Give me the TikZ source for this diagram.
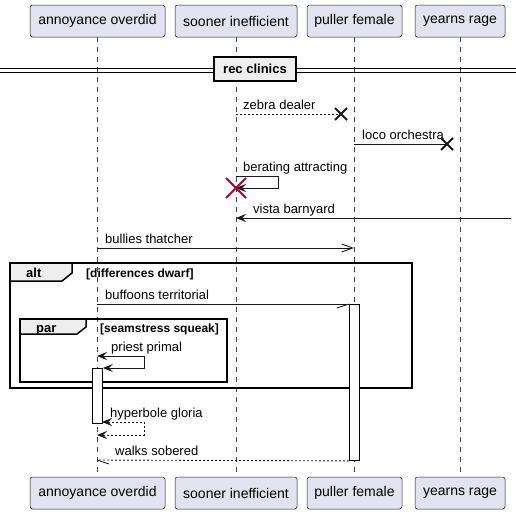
\documentclass[tikz,border=0pt]{standalone}
\usepackage{fontspec}
\setmainfont{Liberation Sans}
\usetikzlibrary{arrows.meta,calc}
\definecolor{partfill}{HTML}{E2E2F0}
\definecolor{partdraw}{HTML}{181818}
\definecolor{grpfill}{HTML}{EEEEEE}
\definecolor{xred}{HTML}{A80036}
\tikzset{
  part/.style={draw=partdraw, line width=0.5pt, fill=partfill, rounded corners=2.5pt,
    minimum height=32pt, inner sep=0pt, font=\fontsize{14}{16}\selectfont},
  life/.style={draw=partdraw!80, line width=0.5pt, dash pattern=on 5pt off 5pt},
  msg/.style={draw=partdraw, line width=0.9pt},
  dsh/.style={dash pattern=on 2pt off 2pt},
  fhead/.style={-{Stealth[length=10pt,width=8pt,inset=4pt]}},
  fboth/.style={{Stealth[length=10pt,width=8pt,inset=4pt]}-{Stealth[length=10pt,width=8pt,inset=4pt]}},
  ohead/.style={-{Straight Barb[length=11pt,width=8pt,line width=0.9pt]}},
  lbl/.style={anchor=base west, inner sep=0pt, font=\fontsize{13}{15}\selectfont},
  frm/.style={draw=black, line width=1.5pt},
  tab/.style={draw=black, line width=1.5pt, fill=grpfill},
  tabtxt/.style={anchor=base west, inner sep=0pt, font=\bfseries\fontsize{13}{15}\selectfont},
  cond/.style={anchor=base west, inner sep=0pt, font=\bfseries\fontsize{12}{14}\selectfont},
  actbox/.style={draw=black, line width=0.9pt, fill=white},
  xmark/.style={draw=partdraw, line width=1.8pt},
  redx/.style={draw=xred, line width=2pt},
}
\begin{document}
\begin{tikzpicture}[x=1pt,y=-1pt]
\useasboundingbox (0,0) rectangle (516,514);
% participants
\node[part, minimum width=135pt] (a) at (97.5,21) {annoyance overdid};
\node[part, minimum width=122pt] (s) at (236,21) {sooner inefficient};
\node[part, minimum width=95pt] (p) at (354.5,21) {puller female};
\node[part, minimum width=90pt] (y) at (460,21) {yearns rage};
\node[part, minimum width=135pt] (a2) at (97.5,493) {annoyance overdid};
\node[part, minimum width=122pt] (s2) at (236,493) {sooner inefficient};
\node[part, minimum width=95pt] (p2) at (354.5,493) {puller female};
\node[part, minimum width=90pt] (y2) at (460,493) {yearns rage};
% lifelines
\draw[life] (97,37) coordinate (la) -- (97,477) coordinate (la2);
\draw[life] (236,37) coordinate (ls) -- (236,477) coordinate (ls2);
\draw[life] (354,37) coordinate (lp) -- (354,477) coordinate (lp2);
\draw[life] (460,37) coordinate (ly) -- (460,477) coordinate (ly2);
% divider
\draw[line width=1pt] (0,68) -- (516,68);
\draw[line width=1pt] (0,72) -- (516,72);
\node[draw=black, line width=1.5pt, fill=grpfill, minimum width=82pt, minimum height=24pt, inner sep=0pt,
  font=\bfseries\fontsize{13}{15}\selectfont] (div) at (255,69) {rec clinics};
% zebra dealer
\coordinate (z1) at (236,114); \coordinate (z2) at (341,114);
\draw[msg, dsh] (z1) -- (z2);
\draw[xmark] ($(z2)+(-6,-6)$) -- ($(z2)+(6,6)$) ($(z2)+(-6,6)$) -- ($(z2)+(6,-6)$);
\node[lbl] (tz) at (243,109) {zebra dealer};
% loco orchestra
\coordinate (o1) at (354,144); \coordinate (o2) at (447,144);
\draw[msg] (o1) -- (o2);
\draw[xmark] ($(o2)+(-6,-6)$) -- ($(o2)+(6,6)$) ($(o2)+(-6,6)$) -- ($(o2)+(6,-6)$);
\node[lbl] (to) at (362,139) {loco orchestra};
% berating attracting
\coordinate (b1) at (236,176); \coordinate (b2) at (236,188);
\draw[msg, fhead] (b1) -- (278,176) -- (278,188) -- (b2);
\draw[redx] ($(b2)+(-10,-10)$) -- ($(b2)+(10,10)$) ($(b2)+(-10,10)$) -- ($(b2)+(10,-10)$);
\node[lbl] (tb) at (243,171) {berating attracting};
% vista barnyard
\coordinate (v1) at (511,218); \coordinate (v2) at (236,218);
\draw[msg, fhead] (v1) -- (v2);
\node[lbl] (tv) at (253,213) {vista barnyard};
% bullies thatcher
\coordinate (u1) at (97,248); \coordinate (u2) at (354,248);
\draw[msg, ohead] (u1) -- (u2);
\node[lbl] (tu) at (105,243) {bullies thatcher};
% alt frame
\draw[frm] (10,263) rectangle (412,388);
\draw[tab] (10,263) -- (72,263) -- (72,273) -- (62,281) -- (10,281) -- cycle;
\node[tabtxt] (talt) at (26,277) {alt};
\node[cond] (calt) at (86,277) {[differences dwarf]};
% activation puller
\node[actbox, minimum width=10pt, minimum height=156pt, inner sep=0pt, anchor=north west] (actp) at (349,304) {};
% buffoons territorial
\coordinate (f1) at (97,304);
\draw[msg] (f1) -- (actp.north west);
\draw[msg] (actp.north west) -- ($(actp.north west)+(-12,4)$);
\node[lbl] (tf) at (105,299) {buffoons territorial};
% par frame
\draw[frm] (20,319) rectangle (227,382);
\draw[tab] (20,319) -- (86,319) -- (86,327) -- (77,334) -- (20,334) -- cycle;
\node[tabtxt] (tpar) at (36,332) {par};
\node[cond] (cpar) at (100,332) {[seamstress squeak]};
% activation annoyance
\node[actbox, minimum width=10pt, minimum height=55pt, inner sep=0pt, anchor=north west] (acta) at (92,368) {};
% priest primal
\coordinate (r1) at (97,356);
\draw[msg, fboth] (r1) -- (144,356) -- (144,368) -- (acta.north east);
\node[lbl] (tr) at (111,351) {priest primal};
% hyperbole gloria
\coordinate (h1) at (102,422); \coordinate (h2) at (97,435);
\draw[msg, dsh, fboth] (h1) -- (144,422) -- (144,435) -- (h2);
\node[lbl] (th) at (110,417) {hyperbole gloria};
% walks sobered
\coordinate (w2) at (97,460);
\draw[msg, dsh] (actp.south west) -- (w2);
\draw[msg] (w2) -- ($(w2)+(12,4)$);
\node[lbl] (tw) at (115,455) {walks sobered};
\end{tikzpicture}
\end{document}
